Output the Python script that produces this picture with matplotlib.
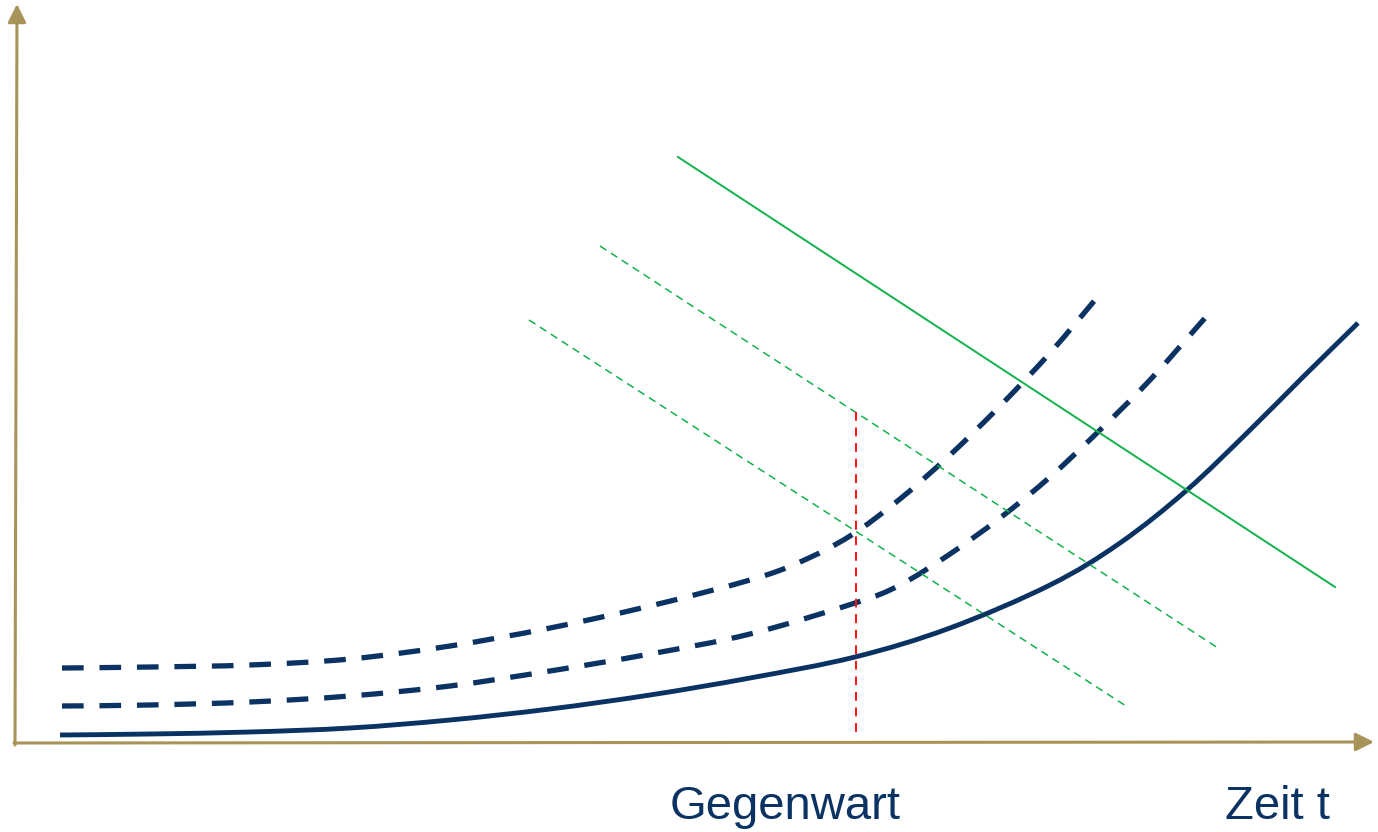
import matplotlib
matplotlib.use("Agg")
import matplotlib.pyplot as plt
from matplotlib.patches import FancyArrowPatch, PathPatch
from matplotlib.path import Path

# Canvas coordinates (x to the right, y downward), 1378 x 832
W, H = 1378, 832

# Main growth curve (solid)
base_x = [60, 150, 250, 350, 450, 550, 650, 750, 855, 950, 1050, 1120, 1187, 1250, 1303, 1358]
base_y = [735, 734, 732, 728, 720, 709, 695, 678, 657, 628, 585, 543, 490, 430, 377, 323]

# Upper shifted curve (dashed)
upper_x = [62, 150, 250, 350, 450, 550, 650, 750, 800, 850, 900, 950, 1000, 1050, 1095]
upper_y = [668, 667, 665, 659, 646, 628, 606, 580, 562, 536, 499, 455, 406, 353, 300]

# Middle shifted curve (dashed)
mid_x = [62, 150, 250, 350, 450, 550, 650, 750, 855, 900, 950, 1000, 1050, 1100, 1150, 1205]
mid_y = [706, 705, 702, 696, 686, 671, 654, 634, 603, 585, 554, 518, 477, 430, 380, 318]

# Green reference lines
green_solid = ([678, 1335], [157, 587])
green_dash1 = ([600, 1218], [246, 648])
green_dash2 = ([529, 1126], [320, 706])

# Present-time marker
present_x = 856
present_y = (412, 737)

labels = ["Gegenwart", "Zeit t"]
label_x = [785, 1277]
label_y = [807, 807]

navy = "#0a3262"
green = "#12b24a"
gold = "#a89358"


def smooth_path(xs, ys):
    """Cubic Bezier path passing through every given point (Catmull-Rom tangents)."""
    pts = list(zip(xs, ys))
    verts = [pts[0]]
    codes = [Path.MOVETO]
    n = len(pts)
    for i in range(n - 1):
        p0 = pts[i - 1] if i > 0 else pts[i]
        p1 = pts[i]
        p2 = pts[i + 1]
        p3 = pts[i + 2] if i + 2 < n else pts[i + 1]
        c1 = (p1[0] + (p2[0] - p0[0]) / 6, p1[1] + (p2[1] - p0[1]) / 6)
        c2 = (p2[0] - (p3[0] - p1[0]) / 6, p2[1] - (p3[1] - p1[1]) / 6)
        verts += [c1, c2, p2]
        codes += [Path.CURVE4] * 3
    return Path(verts, codes)


fig = plt.figure(figsize=(W / 100, H / 100), dpi=100)
ax = fig.add_axes([0, 0, 1, 1])
ax.set_xlim(0, W)
ax.set_ylim(H, 0)
ax.axis("off")

# Axes with arrowheads
arrow = "-|>,head_length=11,head_width=5.5"
ax.add_patch(FancyArrowPatch((15, 745), (17, 4), arrowstyle=arrow, mutation_scale=1,
                             color=gold, lw=2.2, shrinkA=0, shrinkB=0))
ax.add_patch(FancyArrowPatch((14, 743), (1374, 742), arrowstyle=arrow, mutation_scale=1,
                             color=gold, lw=2.2, shrinkA=0, shrinkB=0))

# Green lines
ax.plot(*green_solid, color=green, lw=1.4)
ax.plot(*green_dash1, color=green, lw=1.1, dashes=(5, 3.5))
ax.plot(*green_dash2, color=green, lw=1.1, dashes=(5, 3.5))

# Red vertical marker
ax.plot([present_x, present_x], present_y, color="#ff1010", lw=1.4, dashes=(4.5, 3.5))

# Curves
for xs, ys in [(upper_x, upper_y), (mid_x, mid_y)]:
    ax.add_patch(PathPatch(smooth_path(xs, ys), fill=False, edgecolor=navy, lw=3.8,
                           linestyle=(0, (4.1, 3.0)), capstyle="butt", joinstyle="round"))
ax.add_patch(PathPatch(smooth_path(base_x, base_y), fill=False, edgecolor=navy, lw=3.5,
                       capstyle="butt", joinstyle="round"))

for t, x, y in zip(labels, label_x, label_y):
    ax.text(x, y, t, ha="center", va="center", fontsize=34, color=navy,
            family=["Liberation Sans", "DejaVu Sans"])

fig.savefig("out.png", dpi=100)
